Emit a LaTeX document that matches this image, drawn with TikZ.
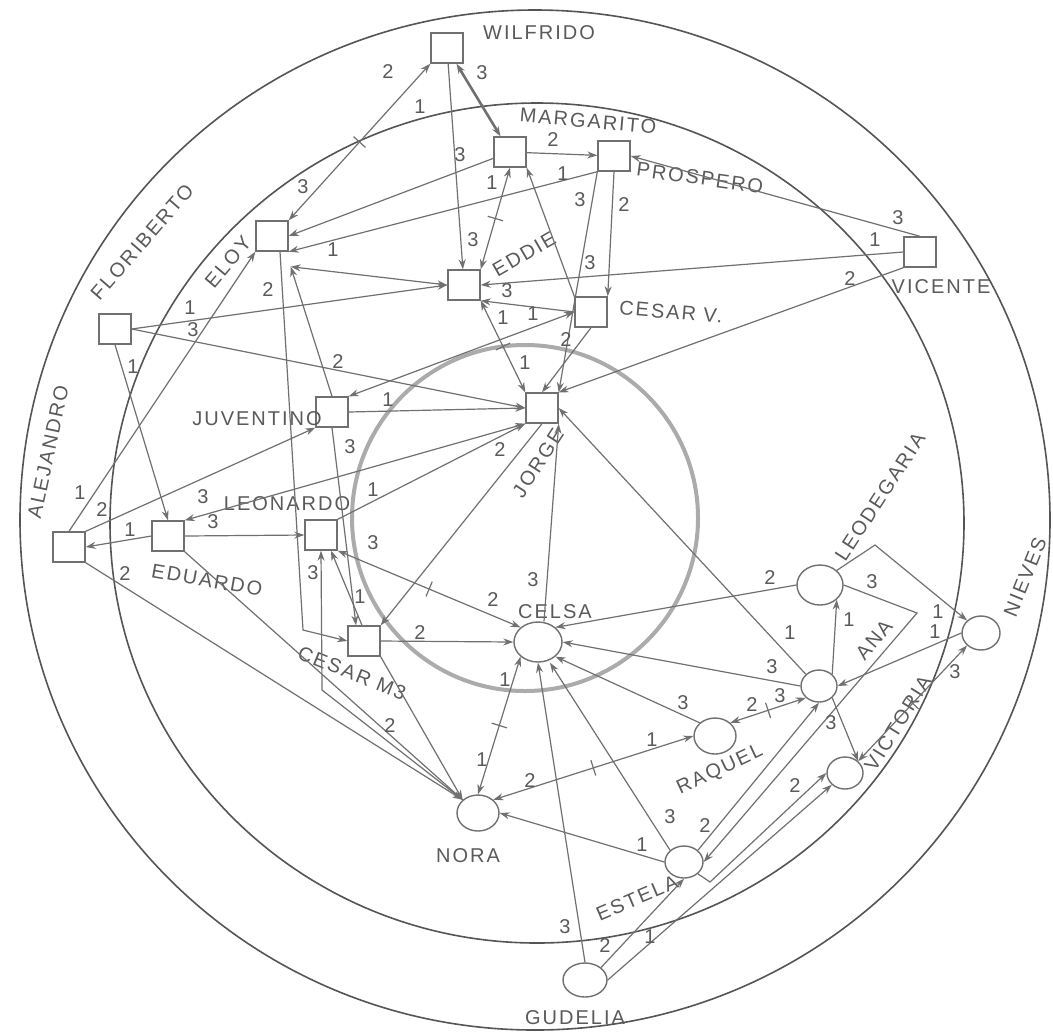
\documentclass[tikz,border=0pt]{standalone}
\usepackage{fontspec}
\setmainfont{Liberation Sans}
\newfontfamily\handfont[LetterSpace=10]{Liberation Sans}
\usetikzlibrary{arrows.meta,shapes.geometric,calc}
\definecolor{ink}{HTML}{707070}
\definecolor{txt}{HTML}{5A5A5A}
\definecolor{ringc}{HTML}{555555}
\definecolor{innerc}{HTML}{ABABAB}
\begin{document}
\begin{tikzpicture}[x=0.5pt,y=-0.5pt,
  box/.style={draw=ink, line width=0.7pt, minimum width=16pt, minimum height=15pt, inner sep=0pt},
  girl/.style={ellipse, draw=ink, line width=0.7pt, minimum width=21pt, minimum height=18pt, inner sep=0pt},
  nm/.style={text=txt, font=\handfont\fontsize{10}{12}\selectfont, inner sep=0pt},
  num/.style={text=txt, font=\handfont\fontsize{10}{12}\selectfont, inner sep=0pt},
  ar/.style={draw=ink, line width=0.6pt, -{Stealth[length=5pt,width=3.5pt]}},
  mu/.style={draw=ink, line width=0.6pt, {Stealth[length=5pt,width=3.5pt]}-{Stealth[length=5pt,width=3.5pt]}},
  tk/.style={draw=ink, line width=0.6pt, sloped, minimum width=0pt, minimum height=8pt, inner sep=0pt, outer sep=0pt},
  ring/.style={draw=ringc, line width=0.8pt}
]
\path[use as bounding box] (0,0) rectangle (1053,1035);
\fill[white] (0,0) rectangle (1053,1035);

% rings
\draw[ring] (535,520) ellipse [x radius=515, y radius=510];
\draw[ring] (537,523) ellipse [x radius=427, y radius=420];
\draw[draw=innerc, line width=2pt] (525,518) circle [radius=173];

% boys (squares)
\node[box] (wil) at (447,48) {};
\node[box] (mar) at (510,152) {};
\node[box] (pro) at (614,156) {};
\node[box] (eloy) at (272,236) {};
\node[box] (edd) at (464,285) {};
\node[box] (cesv) at (591,312) {};
\node[box] (vic) at (920,252) {};
\node[box] (flo) at (115,329) {};
\node[box] (juv) at (332,412) {};
\node[box] (jor) at (542,408) {};
\node[box] (ale) at (69,547) {};
\node[box] (edu) at (168,536) {};
\node[box] (leo) at (321,535) {};
\node[box] (cesm) at (364,641) {};
% girls (circles)
\node[girl, minimum width=24pt, minimum height=20pt] (cel) at (538,642) {};
\node[girl] (nor) at (478,813) {};
\node[girl] (raq) at (715,736) {};
\node[girl, minimum width=18pt, minimum height=16pt] (ana) at (819,686) {};
\node[girl, minimum width=23pt, minimum height=20pt] (leod) at (820,585) {};
\node[girl, minimum width=19pt, minimum height=17pt] (nie) at (981,633) {};
\node[girl, minimum width=18pt, minimum height=16pt] (vict) at (845,773) {};
\node[girl, minimum width=19pt, minimum height=16pt] (est) at (684,862) {};
\node[girl, minimum width=22pt, minimum height=17pt] (gud) at (585,980) {};

% bend points
\coordinate (k1) at (303,630);
\coordinate (k2) at (322,690);
\coordinate (k3) at (917,613);
\coordinate (k4) at (875,545);
\coordinate (k5) at (710,882);

% names
\node[nm] (tWIL) at (539,33) {WILFRIDO};
\node[nm, rotate=-5] (tMAR) at (588,121) {MARGARITO};
\node[nm, rotate=-8] (tPRO) at (700,178) {PROSPERO};
\node[nm] (tVIC) at (941,287) {VICENTE};
\node[nm, rotate=-5] (tCESV) at (671,312) {CESAR V.};
\node[nm, rotate=30] (tEDD) at (524,254) {EDDIE};
\node[nm, rotate=50] (tELOY) at (228,262) {ELOY};
\node[nm, rotate=49] (tFLO) at (142,242) {FLORIBERTO};
\node[nm] (tJUV) at (257,419) {JUVENTINO};
\node[nm, rotate=57] (tJOR) at (538,463) {JORGE};
\node[nm, rotate=78] (tALE) at (48,452) {ALEJANDRO};
\node[nm, rotate=-10] (tEDU) at (207,580) {EDUARDO};
\node[nm] (tLEO) at (287,504) {LEONARDO};
\node[nm, rotate=-22] (tCESM) at (352,673) {CESAR M3};
\node[nm] (tCEL) at (555,612) {CELSA};
\node[nm] (tNOR) at (468,856) {NORA};
\node[nm, rotate=25] (tRAQ) at (720,770) {RAQUEL};
\node[nm, rotate=50] (tANA) at (874,640) {ANA};
\node[nm, rotate=57] (tLEOD) at (880,497) {LEODEGARIA};
\node[nm, rotate=68] (tNIE) at (1025,577) {NIEVES};
\node[nm, rotate=58] (tVICT) at (898,723) {VICTORIA};
\node[nm, rotate=23] (tEST) at (637,898) {ESTELA};
\node[nm] (tGUD) at (575,1018) {GUDELIA};

% top cluster
\draw[mu] (eloy.north east) -- node[tk]{} (wil.south west);
\draw[ar] (wil) -- (edd);
\draw[mu, line width=1.3pt] (wil) -- (mar);
\draw[ar] (mar) -- (pro);
\draw[ar] (mar) -- (eloy.east);
\draw[ar] (pro.south west) -- (eloy.south east);
\draw[mu] (edd.north east) -- node[tk]{} (mar.south);
\draw[ar] (cesv.north west) -- (mar.south east);
\draw[ar] (pro.south) -- (cesv.north east);
\draw[ar] (pro.south west) -- (jor.north east);
\draw[ar] (vic.north) -- (pro.east);
\draw[ar] (vic.west) -- (edd.east);
\draw[ar] (vic.south west) -- (jor.north east);
\draw[ar] (cesv.west) -- (edd.south east);
\draw[mu] (edd.south east) -- node[tk]{} (jor.north west);
\draw[mu] (juv.north east) -- (cesv.west);
\draw[ar] (cesv.south) -- (jor.north);

% left cluster
\draw[ar] (flo.east) -- (edd.west);
\draw[ar] (flo.east) -- (jor.west);
\draw[ar] (flo.south) -- (edu.north);
\draw[mu] ($(eloy.south east)+(2,15)$) -- (edd.west);
\draw[ar] ($(eloy.south)+(8,0)$) -- (k1) -- (cesm.west);
\draw[ar] (juv.north) -- ($(eloy.south east)+(2,15)$);
\draw[ar] (ale.north) -- (eloy.south west);
\draw[ar] (ale.north east) -- (juv.south west);
\draw[ar] (edu.west) -- (ale.east);
\draw[ar] (ale.south east) -- (nor.north west);
\draw[ar] (edu.south east) -- (nor.north west);
\draw[ar] (edu.east) -- (leo.west);
\draw[mu] (jor.south west) -- (edu.north east);
\draw[ar] (juv.east) -- (jor.west);
\draw[ar] (juv.south) -- ($(cesm.north)+(-8,0)$);
\draw[ar] (leo.north east) -- (jor.south west);
\draw[mu] (leo.south east) -- node[tk]{} (cel.north west);
\draw[ar] ($(cesm.north)+(-2,0)$) -- ($(leo.south)+(10,0)$);
\draw[ar] (nor.north west) -- (k2) -- (leo.south);
\draw[ar] (cesm.south east) -- (nor.north west);
\draw[ar] (cesm.east) -- (cel.west);
\draw[ar] (jor.south) -- (cesm.north east);

% around Celsa
\draw[ar] ($(cel.north)+(6,0)$) -- (jor.south east);
\draw[ar] (leod.west) -- (cel.north east);
\draw[ar] (ana.west) -- (cel.east);
\draw[ar] (raq.north west) -- (cel.south east);
\draw[ar] (est.north west) -- ($(cel.south)+(12,0)$);
\draw[ar] (gud.north) -- (cel.south);
\draw[mu] (nor.north) -- node[tk]{} (cel.south west);
\draw[mu] (nor.north east) -- node[tk]{} (raq.west);
\draw[ar] (est.west) -- (nor.east);
\draw[ar] (ana.north west) -- (jor.east);

% right cluster
\draw[mu] (raq.north east) -- node[tk]{} (ana.south west);
\draw[ar] (est.north east) -- (ana.south);
\draw[ar] (leod.east) -- (k3) -- (est.east);
\draw[ar] (ana.north east) -- (leod.south east);
\draw[ar] (ana.south east) -- (vict.north east);
\draw[ar] (nie.west) -- (ana.east);
\draw[ar] (leod.north east) -- (k4) -- (nie.north west);
\draw[mu] (vict.north east) -- node[tk]{} (nie.south west);
\draw[ar] (gud.north east) -- (est.south);
\draw[ar] (gud.east) -- (vict.south west);
\draw[ar] (est.south east) -- (k5) -- (vict.west);

% choice numbers
\node[num] (q1) at (388,72) {2};
\node[num] (q2) at (303,187) {3};
\node[num] (q3) at (420,107) {1};
\node[num] (q4) at (482,73) {3};
\node[num] (q5) at (553,140) {2};
\node[num] (q6) at (460,155) {3};
\node[num] (q7) at (563,174) {1};
\node[num] (q8) at (492,183) {1};
\node[num] (q9) at (473,240) {3};
\node[num] (q10) at (590,263) {3};
\node[num] (q11) at (624,205) {2};
\node[num] (q12) at (580,200) {3};
\node[num] (q13) at (898,218) {3};
\node[num] (q14) at (875,240) {1};
\node[num] (q15) at (850,279) {2};
\node[num] (q16) at (507,291) {3};
\node[num] (q17) at (503,318) {1};
\node[num] (q18) at (525,363) {1};
\node[num] (q19) at (533,314) {1};
\node[num] (q20) at (566,340) {2};
\node[num] (q21) at (190,308) {1};
\node[num] (q22) at (193,330) {3};
\node[num] (q23) at (133,367) {1};
\node[num] (q24) at (333,250) {1};
\node[num] (q25) at (268,290) {2};
\node[num] (q26) at (338,362) {2};
\node[num] (q27) at (80,493) {1};
\node[num] (q28) at (102,510) {2};
\node[num] (q29) at (130,530) {1};
\node[num] (q30) at (125,573) {2};
\node[num] (q31) at (390,725) {2};
\node[num] (q32) at (213,522) {3};
\node[num] (q33) at (203,497) {3};
\node[num] (q34) at (388,400) {1};
\node[num] (q35) at (350,447) {3};
\node[num] (q36) at (373,490) {1};
\node[num] (q37) at (373,543) {3};
\node[num] (q38) at (493,600) {2};
\node[num] (q39) at (360,597) {1};
\node[num] (q40) at (313,573) {3};
\node[num] (q42) at (420,632) {2};
\node[num] (q43) at (500,450) {2};
\node[num] (q44) at (533,580) {3};
\node[num] (q45) at (770,578) {2};
\node[num] (q46) at (772,667) {3};
\node[num] (q47) at (683,703) {3};
\node[num] (q48) at (670,817) {3};
\node[num] (q49) at (565,927) {3};
\node[num] (q50) at (482,760) {1};
\node[num] (q51) at (505,680) {1};
\node[num] (q52) at (530,780) {2};
\node[num] (q53) at (652,740) {1};
\node[num] (q54) at (642,845) {1};
\node[num] (q55) at (752,704) {2};
\node[num] (q56) at (780,696) {3};
\node[num] (q57) at (705,825) {2};
\node[num] (q58) at (872,582) {3};
\node[num] (q59) at (849,620) {1};
\node[num] (q60) at (831,723) {3};
\node[num] (q61) at (935,632) {1};
\node[num] (q62) at (938,612) {1};
\node[num] (q63) at (955,672) {3};
\node[num] (q64) at (605,945) {2};
\node[num] (q65) at (650,937) {1};
\node[num] (q66) at (795,785) {2};
\node[num] (q67) at (790,633) {1};
\end{tikzpicture}
\end{document}
